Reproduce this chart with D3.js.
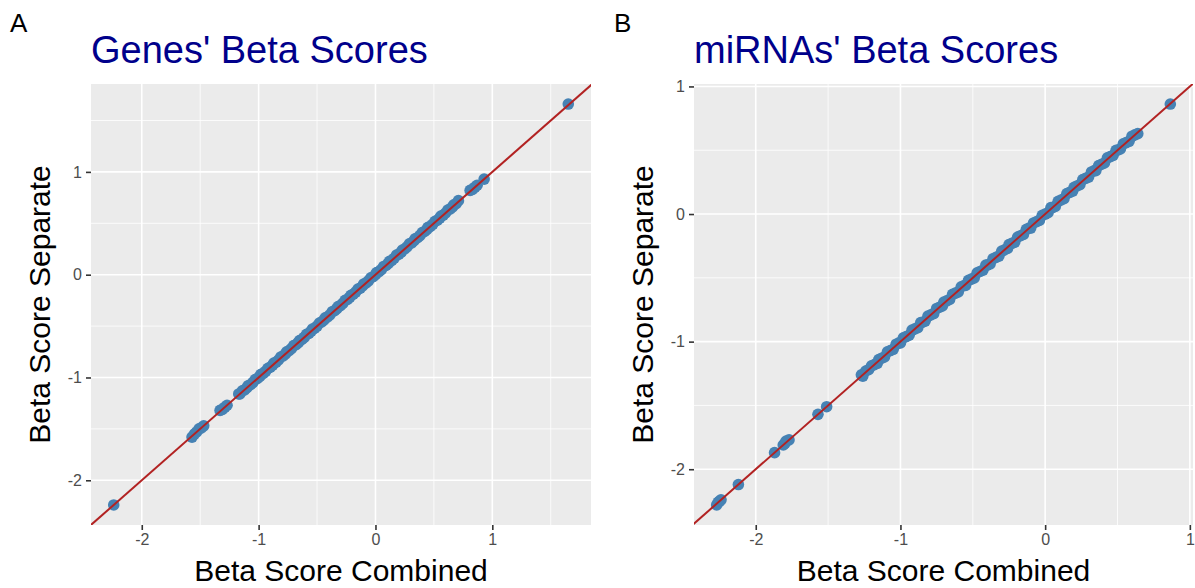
<!DOCTYPE html>
<html>
<head>
<meta charset="utf-8">
<script src="https://cdn.jsdelivr.net/npm/d3@7"></script>
<style>
  html, body { margin: 0; padding: 0; background: #ffffff; }
  svg { display: block; font-family: "Liberation Sans", Arial, Helvetica, sans-serif; }
</style>
</head>
<body>
<svg id="chart" width="1195" height="588"></svg>
<script>
// Gene beta scores: combined model vs. separate model
const geneCombined = [
  -2.24, -1.57, -1.55, -1.53, -1.51, -1.49, -1.47, -1.33, -1.31, -1.29, -1.27,
  -1.17, -1.16, -1.14, -1.12, -1.10, -1.09, -1.07, -1.05, -1.03, -1.01, -0.99,
  -0.98, -0.96, -0.94, -0.92, -0.90, -0.88, -0.87, -0.85, -0.83, -0.81, -0.79,
  -0.77, -0.76, -0.74, -0.72, -0.70, -0.68, -0.66, -0.65, -0.63, -0.61, -0.59,
  -0.57, -0.55, -0.54, -0.52, -0.50, -0.48, -0.46, -0.44, -0.43, -0.41, -0.39,
  -0.37, -0.35, -0.33, -0.32, -0.30, -0.28, -0.26, -0.24, -0.22, -0.21, -0.19,
  -0.17, -0.15, -0.13, -0.11, -0.10, -0.08, -0.06, -0.04, -0.02, 0.00, 0.01,
  0.03, 0.05, 0.07, 0.09, 0.11, 0.12, 0.14, 0.16, 0.18, 0.20, 0.22, 0.23,
  0.25, 0.27, 0.29, 0.31, 0.33, 0.34, 0.36, 0.38, 0.40, 0.42, 0.44, 0.45,
  0.47, 0.49, 0.51, 0.53, 0.55, 0.56, 0.58, 0.60, 0.62, 0.64, 0.66, 0.67,
  0.69, 0.71, 0.81, 0.83, 0.85, 0.87, 0.93, 1.65
];
const geneSeparate = [
  -2.24, -1.58, -1.55, -1.53, -1.50, -1.49, -1.47, -1.32, -1.31, -1.29, -1.27,
  -1.16, -1.16, -1.13, -1.12, -1.10, -1.08, -1.07, -1.05, -1.02, -1.01, -0.99,
  -0.97, -0.96, -0.94, -0.91, -0.90, -0.88, -0.86, -0.85, -0.83, -0.80, -0.79,
  -0.77, -0.75, -0.74, -0.72, -0.69, -0.68, -0.66, -0.64, -0.63, -0.61, -0.58,
  -0.57, -0.55, -0.53, -0.52, -0.50, -0.47, -0.46, -0.44, -0.42, -0.41, -0.39,
  -0.36, -0.35, -0.33, -0.31, -0.30, -0.28, -0.25, -0.24, -0.22, -0.20, -0.19,
  -0.17, -0.14, -0.13, -0.11, -0.09, -0.08, -0.06, -0.03, -0.02, 0.00, 0.02,
  0.03, 0.05, 0.08, 0.09, 0.11, 0.13, 0.14, 0.16, 0.19, 0.20, 0.22, 0.24,
  0.25, 0.27, 0.30, 0.31, 0.33, 0.35, 0.36, 0.38, 0.41, 0.42, 0.44, 0.46,
  0.47, 0.49, 0.52, 0.53, 0.55, 0.57, 0.58, 0.60, 0.63, 0.64, 0.66, 0.68,
  0.69, 0.72, 0.82, 0.83, 0.85, 0.87, 0.93, 1.66
];

// miRNA beta scores: combined model vs. separate model
const mirnaCombined = [
  -2.27, -2.26, -2.25, -2.24, -2.12, -1.87, -1.81, -1.80, -1.79, -1.77, -1.57, -1.51,
  -1.27, -1.26, -1.24, -1.22, -1.20, -1.18, -1.16, -1.15, -1.13, -1.11, -1.09,
  -1.07, -1.05, -1.03, -1.01, -1.00, -0.98, -0.96, -0.94, -0.92, -0.90, -0.88,
  -0.86, -0.85, -0.83, -0.81, -0.79, -0.77, -0.75, -0.73, -0.71, -0.70, -0.68,
  -0.66, -0.64, -0.62, -0.60, -0.58, -0.56, -0.55, -0.53, -0.51, -0.49, -0.47,
  -0.45, -0.43, -0.41, -0.40, -0.38, -0.36, -0.34, -0.32, -0.30, -0.28, -0.26,
  -0.25, -0.23, -0.21, -0.19, -0.17, -0.15, -0.13, -0.11, -0.10, -0.08, -0.06,
  -0.04, -0.02, 0.00, 0.02, 0.04, 0.05, 0.07, 0.09, 0.11, 0.13, 0.15, 0.17,
  0.19, 0.20, 0.22, 0.24, 0.26, 0.28, 0.30, 0.32, 0.34, 0.35, 0.37, 0.39,
  0.41, 0.43, 0.45, 0.47, 0.49, 0.50, 0.52, 0.54, 0.56, 0.58, 0.60, 0.62,
  0.64, 0.865
];
const mirnaSeparate = [
  -2.28, -2.26, -2.25, -2.24, -2.12, -1.87, -1.81, -1.80, -1.78, -1.77, -1.57, -1.51,
  -1.26, -1.27, -1.23, -1.22, -1.19, -1.18, -1.17, -1.14, -1.13, -1.12, -1.08,
  -1.07, -1.06, -1.02, -1.01, -1.01, -0.97, -0.96, -0.95, -0.91, -0.90, -0.89,
  -0.85, -0.85, -0.84, -0.80, -0.79, -0.78, -0.74, -0.73, -0.72, -0.69, -0.68,
  -0.67, -0.63, -0.62, -0.61, -0.57, -0.56, -0.56, -0.52, -0.51, -0.50, -0.46,
  -0.45, -0.44, -0.40, -0.40, -0.39, -0.35, -0.34, -0.33, -0.29, -0.28, -0.27,
  -0.24, -0.23, -0.22, -0.18, -0.17, -0.16, -0.12, -0.11, -0.11, -0.07, -0.06,
  -0.05, -0.01, 0.00, 0.01, 0.05, 0.05, 0.06, 0.10, 0.11, 0.12, 0.16, 0.17,
  0.18, 0.21, 0.22, 0.23, 0.27, 0.28, 0.29, 0.33, 0.34, 0.34, 0.38, 0.39,
  0.40, 0.44, 0.45, 0.46, 0.50, 0.50, 0.51, 0.55, 0.56, 0.57, 0.61, 0.62,
  0.63, 0.862
];

// Axis breaks and their labels
const geneTicks = [-2, -1, 0, 1];
const geneTickLabels = ["-2", "-1", "0", "1"];
const mirnaTicks = [-2, -1, 0, 1];
const mirnaTickLabels = ["-2", "-1", "0", "1"];

// Text
const panelTags = ["A", "B"];
const panelTitles = ["Genes' Beta Scores", "miRNAs' Beta Scores"];
const xAxisTitle = "Beta Score Combined";
const yAxisTitle = "Beta Score Separate";

const svg = d3.select("#chart");

// Pad a data extent by 5% on each side
function padded(values) {
  const [lo, hi] = d3.extent(values);
  const pad = (hi - lo) * 0.05;
  return [lo - pad, hi + pad];
}

function drawPanel(opts) {
  const { id, left, right, top, bottom, tag, tagX, title, xs, ys, ticks, tickLabels } = opts;
  const w = right - left, h = bottom - top;

  const x = d3.scaleLinear().domain(padded(xs)).range([0, w]);
  const y = d3.scaleLinear().domain(padded(ys)).range([h, 0]);

  const halfStep = (dom) => d3.range(Math.ceil(dom[0] * 2) / 2, dom[1] + 1e-9, 0.5)
    .filter(v => Math.abs(v - Math.round(v)) > 1e-6);
  const xMinor = halfStep(x.domain());
  const yMinor = halfStep(y.domain());

  // Panel tag and title
  svg.append("text").attr("x", tagX).attr("y", 32)
    .attr("font-size", 26).attr("fill", "#000").text(tag);
  svg.append("text").attr("x", left).attr("y", 63)
    .attr("font-size", 38).attr("fill", "#00008B").text(title);

  const g = svg.append("g").attr("transform", `translate(${left},${top})`);

  // Panel background
  g.append("rect").attr("width", w).attr("height", h).attr("fill", "#EBEBEB");

  // Minor grid
  g.selectAll(".vminor").data(xMinor).join("line")
    .attr("x1", d => x(d)).attr("x2", d => x(d)).attr("y1", 0).attr("y2", h)
    .attr("stroke", "#fff").attr("stroke-width", 0.8);
  g.selectAll(".hminor").data(yMinor).join("line")
    .attr("y1", d => y(d)).attr("y2", d => y(d)).attr("x1", 0).attr("x2", w)
    .attr("stroke", "#fff").attr("stroke-width", 0.8);

  // Major grid
  g.selectAll(".vmajor").data(ticks).join("line")
    .attr("x1", d => x(d)).attr("x2", d => x(d)).attr("y1", 0).attr("y2", h)
    .attr("stroke", "#fff").attr("stroke-width", 1.6);
  g.selectAll(".hmajor").data(ticks).join("line")
    .attr("y1", d => y(d)).attr("y2", d => y(d)).attr("x1", 0).attr("x2", w)
    .attr("stroke", "#fff").attr("stroke-width", 1.6);

  // Clip for the identity line
  svg.append("clipPath").attr("id", "clip-" + id)
    .append("rect").attr("width", w).attr("height", h);

  // Points
  const pts = xs.map((v, i) => [v, ys[i]]);
  g.append("g").selectAll("circle").data(pts).join("circle")
    .attr("cx", d => x(d[0])).attr("cy", d => y(d[1])).attr("r", 5.8)
    .attr("fill", "#4682B4");

  // Identity line y = x
  const lineExt = [-10, 10];
  g.append("line").attr("clip-path", `url(#clip-${id})`)
    .attr("x1", x(lineExt[0])).attr("y1", y(lineExt[0]))
    .attr("x2", x(lineExt[1])).attr("y2", y(lineExt[1]))
    .attr("stroke", "#B22222").attr("stroke-width", 2);

  // Axes
  const fmt = (d) => tickLabels[ticks.indexOf(d)];
  const xAxis = g.append("g").attr("transform", `translate(0,${h})`)
    .call(d3.axisBottom(x).tickValues(ticks).tickFormat(fmt).tickSize(5).tickPadding(4));
  const yAxis = g.append("g")
    .call(d3.axisLeft(y).tickValues(ticks).tickFormat(fmt).tickSize(5).tickPadding(4));
  [xAxis, yAxis].forEach(a => {
    a.select(".domain").remove();
    a.selectAll(".tick line").attr("stroke", "#333333").attr("stroke-width", 1.6);
    a.selectAll(".tick text").attr("fill", "#4D4D4D").attr("font-size", 16)
      .attr("font-family", "Liberation Sans, Arial, sans-serif");
  });

  // Axis titles
  g.append("text").attr("x", w / 2).attr("y", h + 56)
    .attr("text-anchor", "middle").attr("font-size", 30).attr("fill", "#000")
    .text(xAxisTitle);
  g.append("text")
    .attr("transform", `translate(-41,${h / 2}) rotate(-90)`)
    .attr("text-anchor", "middle").attr("font-size", 30).attr("fill", "#000")
    .text(yAxisTitle);
}

drawPanel({
  id: "genes", left: 91, right: 591, top: 84, bottom: 525,
  tag: panelTags[0], tagX: 10, title: panelTitles[0],
  xs: geneCombined, ys: geneSeparate, ticks: geneTicks, tickLabels: geneTickLabels
});

drawPanel({
  id: "mirnas", left: 694, right: 1193, top: 84, bottom: 525,
  tag: panelTags[1], tagX: 614, title: panelTitles[1],
  xs: mirnaCombined, ys: mirnaSeparate, ticks: mirnaTicks, tickLabels: mirnaTickLabels
});
</script>
</body>
</html>
